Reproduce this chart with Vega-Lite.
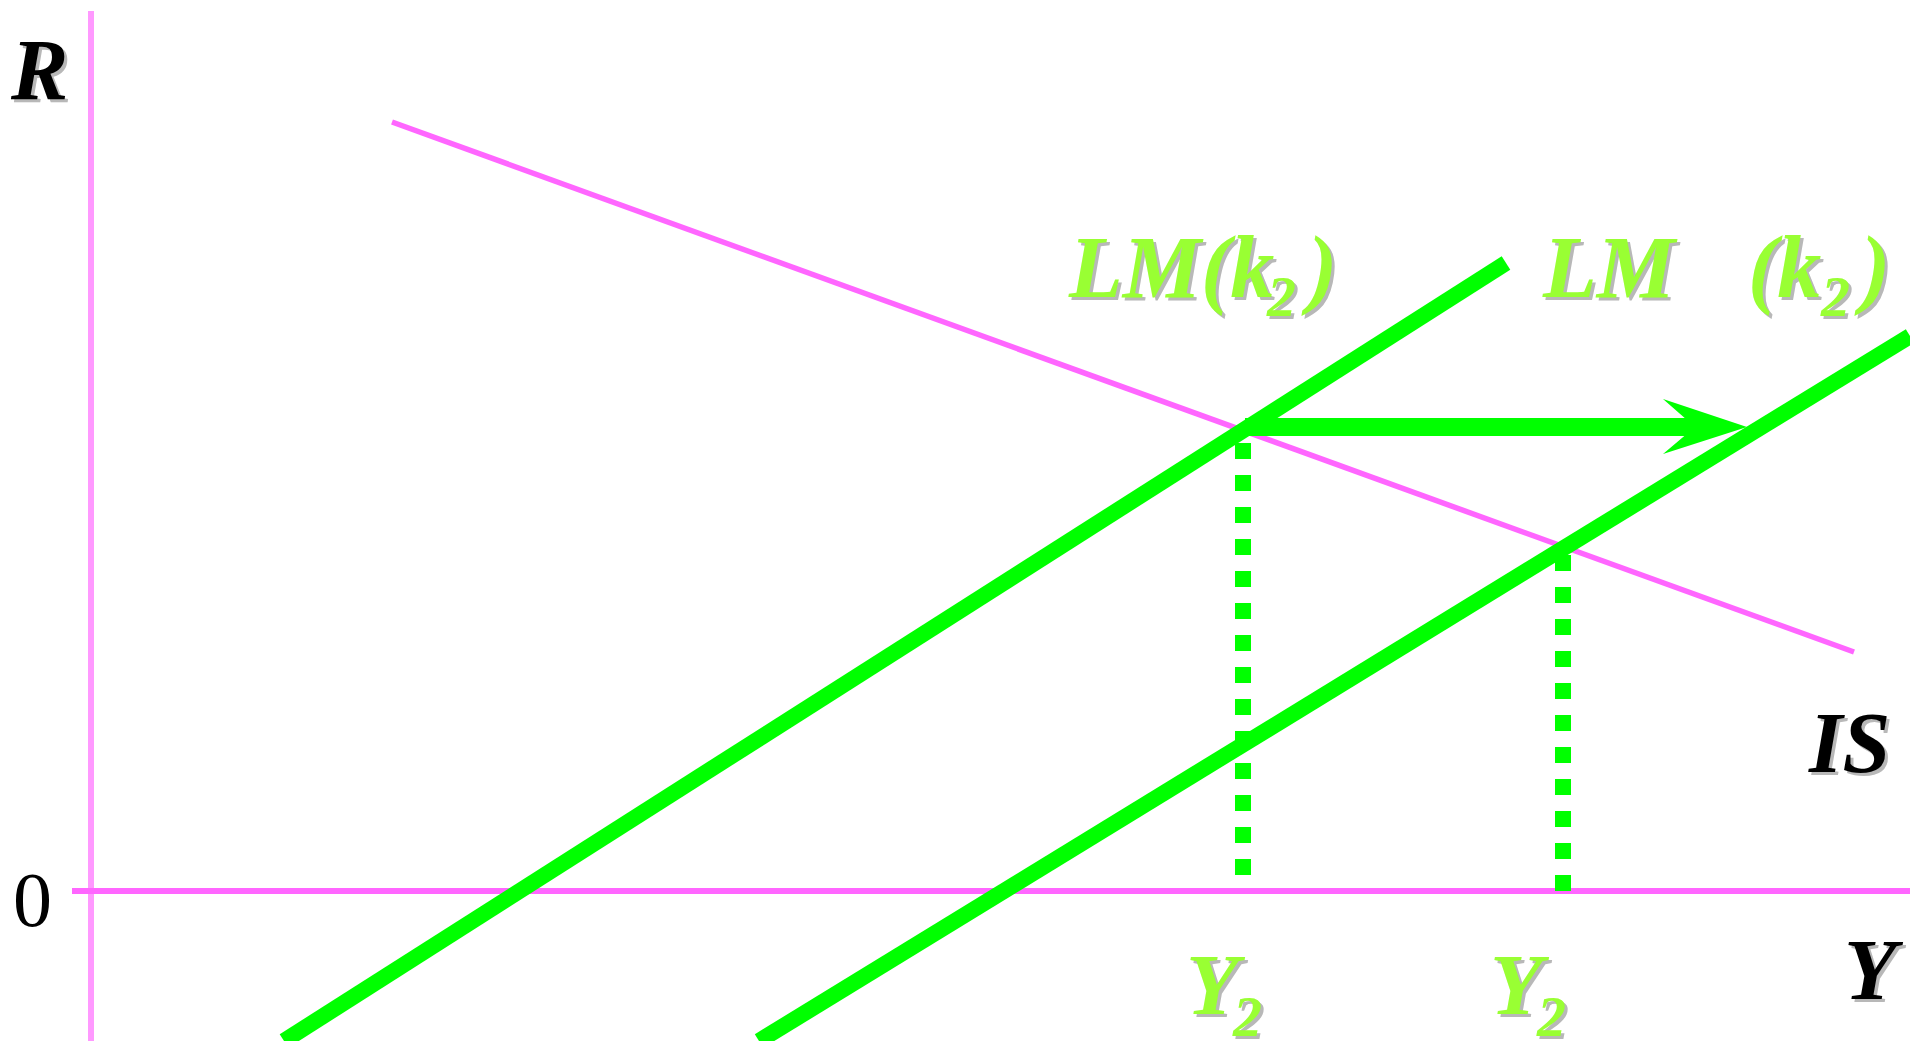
{
  "$schema": "https://vega.github.io/schema/vega-lite/v6.json",
  "width": 1910,
  "height": 1041,
  "padding": 0,
  "autosize": {"type": "none"},
  "background": "white",
  "config": {"view": {"stroke": null}},
  "datasets": {
    "segments": [
      {"name": "vaxis", "x": 0, "y": 88.0, "x2": 0, "y2": -15.0},
      {"name": "haxis", "x": -1.9, "y": 0, "x2": 181.9, "y2": 0},
      {"name": "IS", "x": 30.1, "y": 76.9, "x2": 176.3, "y2": 23.9},
      {"name": "LM1", "x": 19.3, "y": -15.0, "x2": 141.5, "y2": 62.8},
      {"name": "LM2", "x": 66.8, "y": -15.0, "x2": 181.9, "y2": 55.5},
      {"name": "shaft", "x": 115.4, "y": 46.4, "x2": 160.9, "y2": 46.4},
      {"name": "dot1", "x": 115.2, "y": 44.8, "x2": 115.2, "y2": 1.6},
      {"name": "dot2", "x": 147.2, "y": 33.6, "x2": 147.2, "y2": 0}
    ],
    "arrowhead": [{"x": 161.4, "y": 46.4}],
    "labels": [
      {"role": "black", "text": "R", "x": -8.0, "y": 79.2},
      {"role": "black", "text": "IS", "x": 171.8, "y": 11.9},
      {"role": "black", "text": "Y", "x": 175.3, "y": -10.8},
      {"role": "zero", "text": "0", "x": -7.8, "y": -3.5},
      {"role": "lm", "text": "LM(k", "x": 97.8, "y": 59.4},
      {"role": "lm", "text": ")", "x": 121.7, "y": 59.4},
      {"role": "lm", "text": "LM", "x": 145.2, "y": 59.4},
      {"role": "lm", "text": "(k", "x": 165.7, "y": 59.4},
      {"role": "lm", "text": ")", "x": 177.0, "y": 59.4},
      {"role": "sub", "text": "2", "x": 117.6, "y": 57.5},
      {"role": "sub", "text": "2", "x": 173.0, "y": 57.5},
      {"role": "ylab", "text": "Y", "x": 109.5, "y": -12.3},
      {"role": "ylab", "text": "Y", "x": 139.9, "y": -12.3},
      {"role": "ysub", "text": "2", "x": 114.2, "y": -14.5},
      {"role": "ysub", "text": "2", "x": 144.6, "y": -14.5}
    ]
  },
  "encoding": {
    "x": {"field": "x", "type": "quantitative", "axis": null, "scale": {"domain": [-9.1, 181.9], "nice": false, "zero": false}},
    "y": {"field": "y", "type": "quantitative", "axis": null, "scale": {"domain": [-15.0, 89.1], "nice": false, "zero": false}}
  },
  "layer": [
    {
      "data": {"name": "segments"},
      "transform": [{"filter": "datum.name === 'vaxis'"}],
      "mark": {"type": "rule", "color": "#FF99FF", "strokeWidth": 6},
      "encoding": {"x2": {"field": "x2"}, "y2": {"field": "y2"}}
    },
    {
      "data": {"name": "segments"},
      "transform": [{"filter": "datum.name === 'haxis'"}],
      "mark": {"type": "rule", "color": "#FF66FF", "strokeWidth": 6},
      "encoding": {"x2": {"field": "x2"}, "y2": {"field": "y2"}}
    },
    {
      "data": {"name": "segments"},
      "transform": [{"filter": "datum.name === 'IS'"}],
      "mark": {"type": "rule", "color": "#FF66FF", "strokeWidth": 5.5},
      "encoding": {"x2": {"field": "x2"}, "y2": {"field": "y2"}}
    },
    {
      "data": {"name": "segments"},
      "transform": [{"filter": "datum.name === 'LM1' || datum.name === 'LM2'"}],
      "mark": {"type": "rule", "color": "#00FF00", "strokeWidth": 16},
      "encoding": {"x2": {"field": "x2"}, "y2": {"field": "y2"}}
    },
    {
      "data": {"name": "segments"},
      "transform": [{"filter": "datum.name === 'shaft'"}],
      "mark": {"type": "rule", "color": "#00FF00", "strokeWidth": 18},
      "encoding": {"x2": {"field": "x2"}, "y2": {"field": "y2"}}
    },
    {
      "data": {"name": "segments"},
      "transform": [{"filter": "datum.name === 'dot1' || datum.name === 'dot2'"}],
      "mark": {"type": "rule", "color": "#00FF00", "strokeWidth": 16, "strokeDash": [16, 16], "strokeCap": "butt"},
      "encoding": {"x2": {"field": "x2"}, "y2": {"field": "y2"}}
    },
    {
      "data": {"name": "arrowhead"},
      "mark": {"type": "point", "shape": "M1,0L-1,-0.667L-0.238,0L-1,0.643Z", "size": 7056, "filled": true, "opacity": 1, "color": "#00FF00", "strokeWidth": 0}
    },
    {
      "data": {"name": "labels"},
      "transform": [{"filter": "datum.role === 'black'"}],
      "mark": {"type": "text", "font": "Liberation Serif", "fontStyle": "italic", "fontWeight": "bold", "fontSize": 86, "align": "left", "baseline": "alphabetic", "color": "#B8B8B8", "dx": 3, "dy": 3},
      "encoding": {"text": {"field": "text"}}
    },
    {
      "data": {"name": "labels"},
      "transform": [{"filter": "datum.role === 'black'"}],
      "mark": {"type": "text", "font": "Liberation Serif", "fontStyle": "italic", "fontWeight": "bold", "fontSize": 86, "align": "left", "baseline": "alphabetic", "color": "#000000"},
      "encoding": {"text": {"field": "text"}}
    },
    {
      "data": {"name": "labels"},
      "transform": [{"filter": "datum.role === 'zero'"}],
      "mark": {"type": "text", "font": "Liberation Serif", "fontSize": 78, "align": "left", "baseline": "alphabetic", "color": "#000000"},
      "encoding": {"text": {"field": "text"}}
    },
    {
      "data": {"name": "labels"},
      "transform": [{"filter": "datum.role === 'lm'"}],
      "mark": {"type": "text", "font": "Liberation Serif", "fontStyle": "italic", "fontWeight": "bold", "fontSize": 88, "align": "left", "baseline": "alphabetic", "color": "#B8B8B8", "dx": 3, "dy": 3},
      "encoding": {"text": {"field": "text"}}
    },
    {
      "data": {"name": "labels"},
      "transform": [{"filter": "datum.role === 'lm'"}],
      "mark": {"type": "text", "font": "Liberation Serif", "fontStyle": "italic", "fontWeight": "bold", "fontSize": 88, "align": "left", "baseline": "alphabetic", "color": "#99FF33"},
      "encoding": {"text": {"field": "text"}}
    },
    {
      "data": {"name": "labels"},
      "transform": [{"filter": "datum.role === 'ylab'"}],
      "mark": {"type": "text", "font": "Liberation Serif", "fontStyle": "italic", "fontWeight": "bold", "fontSize": 86, "align": "left", "baseline": "alphabetic", "color": "#B8B8B8", "dx": 3, "dy": 3},
      "encoding": {"text": {"field": "text"}}
    },
    {
      "data": {"name": "labels"},
      "transform": [{"filter": "datum.role === 'ylab'"}],
      "mark": {"type": "text", "font": "Liberation Serif", "fontStyle": "italic", "fontWeight": "bold", "fontSize": 86, "align": "left", "baseline": "alphabetic", "color": "#99FF33"},
      "encoding": {"text": {"field": "text"}}
    },
    {
      "data": {"name": "labels"},
      "transform": [{"filter": "datum.role === 'sub' || datum.role === 'ysub'"}],
      "mark": {"type": "text", "font": "Liberation Serif", "fontStyle": "italic", "fontWeight": "bold", "fontSize": 58, "align": "left", "baseline": "alphabetic", "color": "#B8B8B8", "dx": 3, "dy": 3},
      "encoding": {"text": {"field": "text"}}
    },
    {
      "data": {"name": "labels"},
      "transform": [{"filter": "datum.role === 'sub' || datum.role === 'ysub'"}],
      "mark": {"type": "text", "font": "Liberation Serif", "fontStyle": "italic", "fontWeight": "bold", "fontSize": 58, "align": "left", "baseline": "alphabetic", "color": "#99FF33"},
      "encoding": {"text": {"field": "text"}}
    }
  ]
}
